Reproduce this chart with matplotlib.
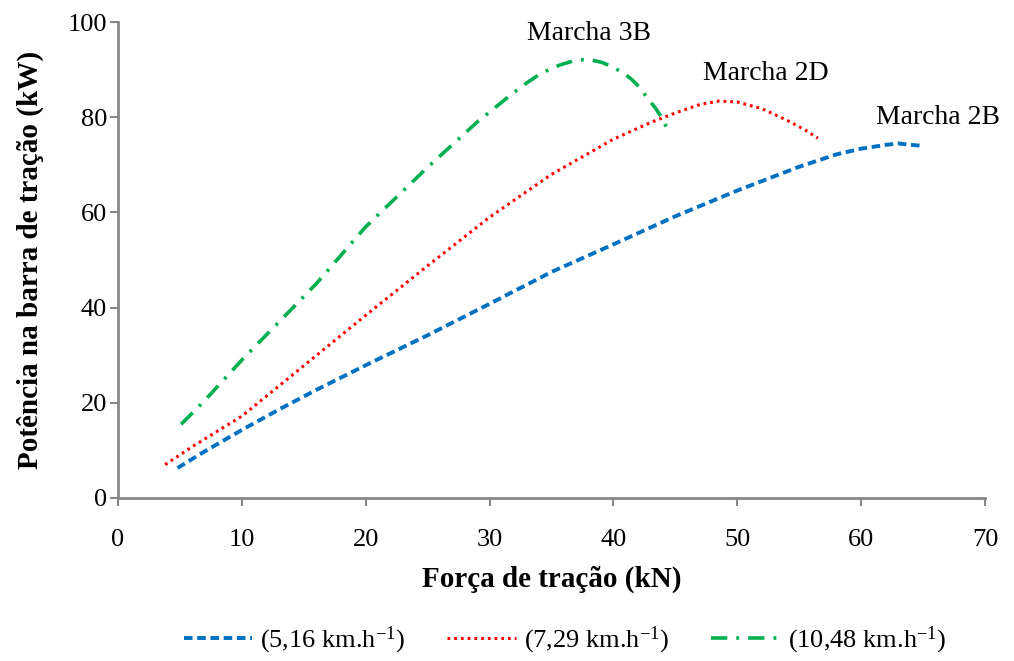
import matplotlib
matplotlib.use("Agg")
import matplotlib.pyplot as plt

plt.rcParams["font.family"] = ["Liberation Serif", "DejaVu Serif"]
plt.rcParams["mathtext.fontset"] = "custom"
plt.rcParams["mathtext.rm"] = "Liberation Serif"
plt.rcParams["mathtext.it"] = "Liberation Serif:italic"

# Drawbar power vs. traction force, one curve per gear
forca_2b = [4.8, 7, 10, 13, 16, 20, 25, 30, 35, 40, 45, 50, 55, 58, 60, 62, 63, 64, 65]
potencia_2b = [6.3, 9.8, 14.3, 18.6, 22.7, 27.9, 34.2, 40.8, 47.5, 53.3, 59.2, 64.6, 69.6, 72.2, 73.4, 74.2, 74.5, 74.2, 74.0]

forca_2d = [3.8, 6, 10, 15, 20, 25, 30, 35, 40, 43, 45, 47, 48.5, 50, 52, 54, 55.5, 56.5]
potencia_2d = [7.0, 10.8, 17.2, 27.8, 38.4, 48.8, 59.0, 68.0, 75.4, 78.9, 80.9, 82.7, 83.4, 83.2, 81.8, 79.4, 77.3, 75.6]

forca_3b = [5.1, 7, 10, 13, 16, 20, 25, 29, 31, 32, 33.1, 34.2, 35.7, 36.7, 37.6, 38.3, 39.1, 39.9,
            40.8, 41.5, 42.1, 42.7, 43.4, 43.9, 44.4]
potencia_3b = [15.5, 20.5, 29.0, 37.0, 45.0, 57.0, 69.5, 79.0, 83.2, 85.3, 87.4, 89.3, 91.0, 91.8, 92.1, 92.0,
               91.5, 90.6, 89.3, 87.9, 86.3, 84.2, 81.9, 79.9, 77.3]

legend_labels = [r"(5,16 km.h$^{-1}$)", r"(7,29 km.h$^{-1}$)", r"(10,48 km.h$^{-1}$)"]
gear_labels = ["Marcha 2B", "Marcha 2D", "Marcha 3B"]
gear_label_pos = [(66.2, 80.0), (52.3, 89.3), (38.0, 97.7)]

fig = plt.figure(figsize=(10.14, 6.61), dpi=100)
ax = fig.add_axes([0.1164, 0.2466, 0.855, 0.72])

l1, = ax.plot(forca_2b, potencia_2b, color="#0070C0", lw=2.8, ls=(0, (2.2, 1.2)))
l2, = ax.plot(forca_2d, potencia_2d, color="#FF0000", lw=2.2, ls=(0, (0.9, 1.3)))
l3, = ax.plot(forca_3b, potencia_3b, color="#00B050", lw=2.6, ls=(0, (4.5, 2.5, 0.8, 2.5)))

for text, (x, y) in zip(gear_labels, gear_label_pos):
    ax.text(x, y, text, ha="center", va="center", fontsize=20)

ax.set_xlim(0, 70)
ax.set_ylim(0, 100)
ax.set_xticks(range(0, 71, 10))
ax.set_yticks(range(0, 101, 20))
ax.tick_params(labelsize=19, color="#888888", width=1.5, length=6, direction="out")
ax.tick_params(axis="x", pad=16)
ax.tick_params(axis="y", pad=2)
for side in ("top", "right"):
    ax.spines[side].set_visible(False)
for side in ("left", "bottom"):
    ax.spines[side].set_color("#888888")
    ax.spines[side].set_linewidth(2)

ax.set_xlabel("Força de tração (kN)", fontsize=21, fontweight="bold", labelpad=11)
ax.set_ylabel("Potência na barra de tração (kW)", fontsize=21, fontweight="bold", labelpad=17)

fig.legend([l1, l2, l3], legend_labels, loc="center", bbox_to_anchor=(0.557, 0.031),
           ncol=3, frameon=False, fontsize=19, handlelength=2.6, columnspacing=1.6,
           handletextpad=0.3)

fig.savefig("out.png", dpi=100)
